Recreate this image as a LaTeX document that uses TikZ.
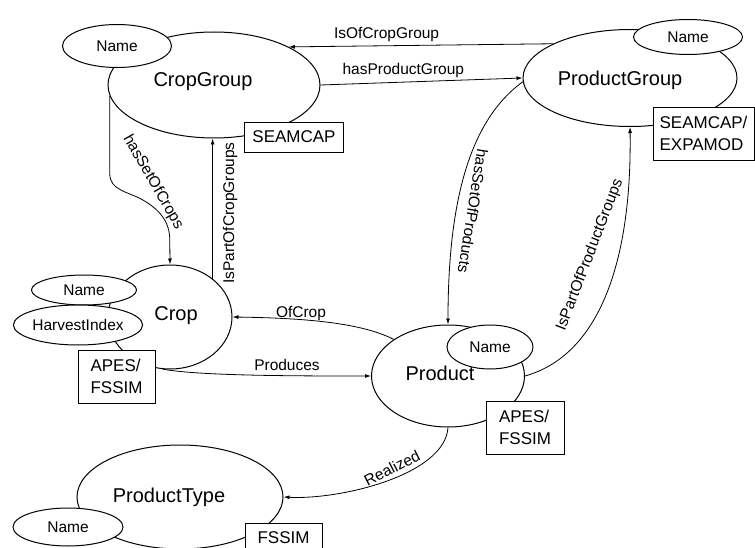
\documentclass[tikz,border=0pt]{standalone}
\usepackage{fontspec}
\setmainfont{Liberation Sans}
\usetikzlibrary{shapes.geometric,arrows.meta}

\begin{document}
\begin{tikzpicture}[
    x=1pt, y=-1pt,
    cls/.style={
        ellipse,
        draw,
        line width=1pt,
        inner sep=0pt
    },
    clsname/.style={font=\fontsize{20}{24}\selectfont, inner sep=0pt},
    attr/.style={
        ellipse,
        draw,
        fill=white,
        line width=1pt,
        inner sep=0pt,
        font=\fontsize{15.5}{18}\selectfont
    },
    src/.style={
        rectangle,
        draw,
        fill=white,
        line width=0.9pt,
        inner sep=0pt,
        align=left,
        font=\fontsize{17}{22}\selectfont
    },
    arrow/.style={-{Latex[length=6pt,width=4pt]}, line width=0.8pt},
    lbl/.style={font=\fontsize{15.5}{18}\selectfont, inner sep=0pt}
]
\useasboundingbox (0,0) rectangle (755,548);

\node[cls, minimum width=212pt, minimum height=106pt] (cg) at (214,85) {};
\node[cls, minimum width=214pt, minimum height=97pt] (pg) at (630,78) {};
\node[cls, minimum width=124pt, minimum height=104pt] (crop) at (170,317) {};
\node[cls, minimum width=153pt, minimum height=102pt] (prod) at (448,376) {};
\node[cls, minimum width=206pt, minimum height=104pt] (pt) at (180,497) {};

\node[clsname] (cgtext) at (203,82) {CropGroup};
\node[clsname] (pgtext) at (620,80) {ProductGroup};
\node[clsname] (croptext) at (176,316) {Crop};
\node[clsname] (prodtext) at (440,373) {Product};
\node[clsname] (pttext) at (169,497) {ProductType};

\draw[arrow] (pg.156) -- node[lbl, pos=0.63, above=4pt] (lisofcg) {IsOfCropGroup} (cg.27);
\draw[arrow] (cg.east) -- node[lbl, pos=0.41, above=4pt] (lhaspg) {hasProductGroup} (pg.west);
\draw[arrow] (cg.186) -- ++(0,78) to[out=-90,in=150] ++(33,26) to[out=-30,in=90] ++(27,40) -- (crop.north);
\draw[arrow] (crop.42) -- (crop.42 |- cg.south);
\draw[arrow] (pg.182) .. controls (470,120) and (448,200) .. (prod.north);
\draw[arrow] (prod.east) .. controls (600,355) and (632,260) .. (pg.south);
\draw[arrow] (prod.146) .. controls (360,322) and (300,318) .. (crop.east);
\draw[arrow] (crop.262) .. controls (200,376) and (300,376) .. (prod.west);
\draw[arrow] (prod.south) .. controls (445,475) and (340,500) .. (pt.east);

\node[lbl, rotate=-60] (lhascrops) at (153,182) {hasSetOfCrops};
\node[lbl, rotate=90] (lpartcg) at (230,213) {IsPartOfCropGroups};
\node[lbl, rotate=-99] (lhasprods) at (473,211) {hasSetOfProducts};
\node[lbl, rotate=69] (lpartpg) at (590,255) {IsPartOfProductGroups};
\node[lbl] (lofcrop) at (301,313) {OfCrop};
\node[lbl] (lproduces) at (287,365) {Produces};
\node[lbl, rotate=27] (lrealized) at (392,468) {Realized};

\node[attr, minimum width=109pt, minimum height=43pt] (cgattr) at (117,46) {Name};
\node[attr, minimum width=109pt, minimum height=35pt] (pgattr) at (688,37) {Name};
\node[attr, minimum width=105pt, minimum height=30pt] (cropattr) at (84,290) {Name};
\node[attr, minimum width=129pt, minimum height=40pt] (harvest) at (78,325) {HarvestIndex};
\node[attr, minimum width=86pt, minimum height=44pt] (prodattr) at (490,347) {Name};
\node[attr, minimum width=110pt, minimum height=38pt] (ptattr) at (68,527) {Name};

\node[src, minimum width=99pt, minimum height=30pt] (cgsrc) at (294,137) {SEAMCAP};
\node[src, minimum width=101pt, minimum height=53pt] (pgsrc) at (703.5,133.5) {SEAMCAP/\\EXPAMOD};
\node[src, minimum width=77pt, minimum height=53pt] (cropsrc) at (116.5,376.5) {APES/\\FSSIM};
\node[src, minimum width=78pt, minimum height=53pt] (prodsrc) at (525,427.5) {APES/\\FSSIM};
\node[src, minimum width=77pt, minimum height=30pt] (ptsrc) at (283.5,538) {FSSIM};

\end{tikzpicture}
\end{document}
